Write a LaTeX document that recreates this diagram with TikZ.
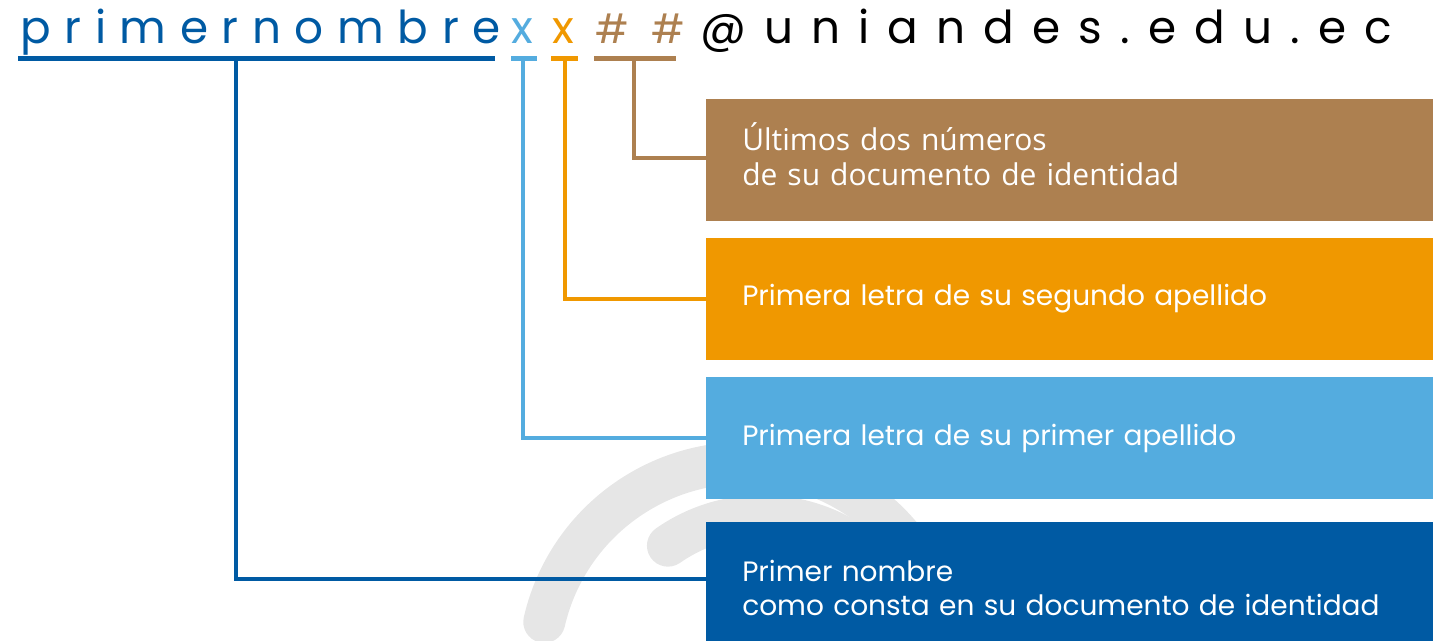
\documentclass[tikz,border=0pt]{standalone}
\usepackage{fontspec}
\setmainfont{Poppins}
\newfontfamily\narrowfont{Open Sans}
\usetikzlibrary{positioning}

\definecolor{unidark}{HTML}{005AA3}
\definecolor{unilight}{HTML}{54ACDF}
\definecolor{uniorange}{HTML}{F09800}
\definecolor{unibrown}{HTML}{AD8050}
\definecolor{arcgray}{HTML}{E6E6E6}

\tikzset{
  infobox/.style={fill=#1, text=white, anchor=north west, inner ysep=0pt,
    inner xsep=27pt, text width=491pt, minimum height=91.5pt, align=left,
    node distance=12pt, font=\fontsize{21}{25}\selectfont},
  mailpart/.style={text=#1, inner sep=0pt, anchor=base west,
    font=\fontsize{34}{40}\selectfont\addfontfeature{LetterSpace=30}},
  uline/.style={draw=#1, line width=3.75pt},
  link/.style={draw=#1, line width=3pt},
  watermark/.style={draw=arcgray, line width=31.5pt, line cap=round}
}

\begin{document}
\begin{tikzpicture}[x=0.75pt,y=-0.75pt]
\useasboundingbox (0,0) rectangle (1433,641);

% logo arcs behind everything
\draw[watermark] (744,668) ++(-167:205) arc[start angle=-167, end angle=-20, radius=205];
\draw[watermark] (762,680) ++(-125:164) arc[start angle=-125, end angle=-20, radius=164];

% address
\node[mailpart=unidark] (nombre) at (20,44) {primernombre};
\node[mailpart=unilight] (xa) at (511,44) {x};
\node[mailpart=uniorange] (xb) at (552,44) {x};
\node[mailpart=unibrown, font=\fontsize{30}{40}\selectfont\addfontfeature{LetterSpace=57}]
  (nums) at (595,44) {\#\#};
\node[mailpart=black, font=\fontsize{34}{40}\selectfont\addfontfeature{LetterSpace=40}]
  (domain) at (700,44) {@uniandes.edu.ec};

\draw[uline=unidark] (18,59) -- (495,59);
\draw[uline=unilight] (511,59) -- (537,59);
\draw[uline=uniorange] (551,59) -- (578,59);
\draw[uline=unibrown] (594,59) -- (676,59);

\coordinate (nombretick) at (236,59);
\coordinate (xatick) at (523,59);
\coordinate (xbtick) at (565,59);
\coordinate (numtick) at (634,59);

% boxes
\node[infobox=unibrown, font=\narrowfont\fontsize{22.5}{26}\selectfont, text depth=35pt]
  (numsbox) at (706,99) {Últimos dos números\\de su documento de identidad};
\node[infobox=uniorange, below=12pt of numsbox] (xbbox)
  {Primera letra de su segundo apellido};
\node[infobox=unilight, below=12.75pt of xbbox] (xabox)
  {Primera letra de su primer apellido};
\node[infobox=unidark, below=16.5pt of xabox, minimum height=99pt] (nombrebox)
  {Primer nombre\\como consta en su documento de identidad};

\draw[link=unibrown] (numtick) |- ([yshift=1.5pt]numsbox.west);
\draw[link=uniorange] (xbtick) |- (xbbox.west);
\draw[link=unilight] (xatick) |- (xabox.west);
\draw[link=unidark] (nombretick) |- ([yshift=6.75pt]nombrebox.west);

\end{tikzpicture}
\end{document}
